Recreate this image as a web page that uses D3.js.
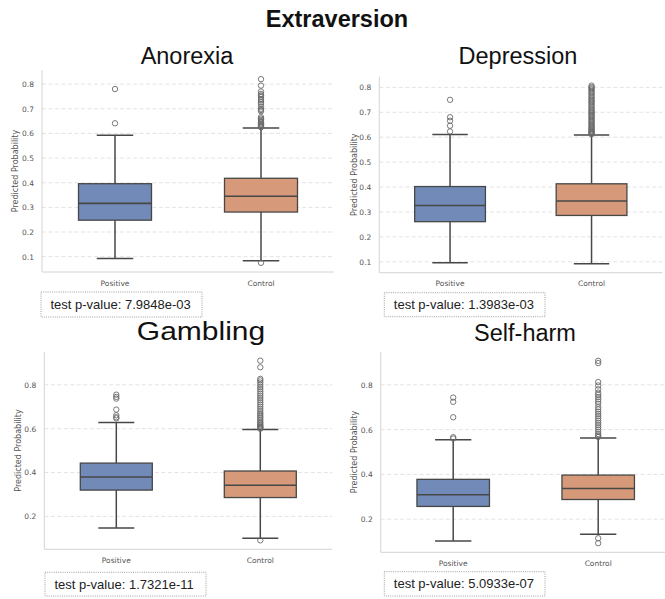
<!DOCTYPE html>
<html>
<head>
<meta charset="utf-8">
<script src="https://cdn.jsdelivr.net/npm/d3@7"></script>
<style>
  html, body { margin: 0; padding: 0; background: #fff; }
  svg { display: block; }
</style>
</head>
<body>
<svg id="chart" width="665" height="599"></svg>
<script>
// ---- data ----
const figureTitle = "Extraversion";
const groups = ["Positive", "Control"];
const disorders = ["Anorexia", "Depression", "Gambling", "Self-harm"];
const pValues = ["7.9848e-03", "1.3983e-03", "1.7321e-11", "5.0933e-07"];

// box statistics: [lower whisker, Q1, median, Q3, upper whisker]
const anorexiaPositive   = [0.093, 0.248, 0.316, 0.396, 0.593];
const anorexiaControl    = [0.083, 0.281, 0.345, 0.418, 0.622];
const depressionPositive = [0.096, 0.261, 0.326, 0.402, 0.611];
const depressionControl  = [0.092, 0.286, 0.344, 0.413, 0.609];
const gamblingPositive   = [0.147, 0.320, 0.380, 0.443, 0.628];
const gamblingControl    = [0.100, 0.286, 0.342, 0.407, 0.596];
const selfharmPositive   = [0.103, 0.257, 0.309, 0.378, 0.555];
const selfharmControl    = [0.133, 0.288, 0.337, 0.397, 0.563];

// outlying points
const anorexiaPositiveOut = [0.780, 0.641];
const anorexiaControlOut = [0.075, 0.625, 0.628, 0.632, 0.636, 0.640, 0.645, 0.650, 0.655, 0.660,
  0.666, 0.690, 0.695, 0.700, 0.709, 0.720, 0.727, 0.735, 0.740, 0.748, 0.754, 0.760, 0.770, 0.794, 0.820];
const depressionPositiveOut = [0.750, 0.680, 0.666, 0.646, 0.623];
const depressionControlOut = [0.612, 0.615, 0.618, 0.621, 0.624, 0.628, 0.632, 0.636, 0.640, 0.645,
  0.650, 0.655, 0.660, 0.665, 0.670, 0.675, 0.680, 0.685, 0.690, 0.695, 0.700, 0.705, 0.710, 0.716,
  0.722, 0.728, 0.734, 0.740, 0.745, 0.750, 0.756, 0.762, 0.768, 0.775, 0.780, 0.786, 0.792, 0.797,
  0.801, 0.807];
const gamblingPositiveOut = [0.755, 0.745, 0.737, 0.687, 0.661, 0.652, 0.647];
const gamblingControlOut = [0.091, 0.600, 0.603, 0.607, 0.610, 0.615, 0.620, 0.626, 0.632, 0.640,
  0.648, 0.655, 0.663, 0.670, 0.680, 0.690, 0.700, 0.710, 0.720, 0.730, 0.740, 0.750, 0.760, 0.770,
  0.780, 0.790, 0.800, 0.810, 0.820, 0.827, 0.880, 0.910];
const selfharmPositiveOut = [0.743, 0.724, 0.655, 0.566, 0.560];
const selfharmControlOut = [0.115, 0.093, 0.567, 0.572, 0.580, 0.590, 0.600, 0.610, 0.620, 0.630,
  0.640, 0.650, 0.660, 0.670, 0.680, 0.690, 0.700, 0.715, 0.725, 0.735, 0.745, 0.755, 0.765, 0.780,
  0.797, 0.812, 0.897, 0.907];

const ticksFine = [0.1, 0.2, 0.3, 0.4, 0.5, 0.6, 0.7, 0.8];
const ticksCoarse = [0.2, 0.4, 0.6, 0.8];

// ---- panel setup ----
// title: [x, baseline, font size, horizontal stretch]
const panels = [
  { name: disorders[0], p: pValues[0], stats: [anorexiaPositive, anorexiaControl],
    out: [anorexiaPositiveOut, anorexiaControlOut], ticks: ticksFine,
    box: { l: 42, r: 334, t: 70, b: 272 }, title: [187, 64, 23.5, 1], yLab: 15, xLabY: 285.5,
    pBox: [41, 292, 161, 25] },
  { name: disorders[1], p: pValues[1], stats: [depressionPositive, depressionControl],
    out: [depressionPositiveOut, depressionControlOut], ticks: ticksFine,
    box: { l: 379.3, r: 662.3, t: 76.7, b: 272.7 }, title: [518, 64, 23.5, 1], yLab: 354, xLabY: 286,
    pBox: [384.3, 292.7, 160.7, 24] },
  { name: disorders[2], p: pValues[2], stats: [gamblingPositive, gamblingControl],
    out: [gamblingPositiveOut, gamblingControlOut], ticks: ticksCoarse,
    box: { l: 44.3, r: 332.3, t: 351.7, b: 549.3 }, title: [201, 340, 25, 1.2], yLab: 18.3, xLabY: 563.5,
    pBox: [45, 572.3, 161, 23.7] },
  { name: disorders[3], p: pValues[3], stats: [selfharmPositive, selfharmControl],
    out: [selfharmPositiveOut, selfharmControlOut], ticks: ticksCoarse,
    box: { l: 380.7, r: 670.7, t: 351.7, b: 552.3 }, title: [525, 341, 23.5, 1], yLab: 354, xLabY: 566,
    pBox: [384.3, 571.7, 160.7, 24.3] }
];

const fills = ["#728ab8", "#d69a7a"];
const lineColor = "#474747";

const svg = d3.select("#chart");

svg.append("text")
  .attr("x", 337).attr("y", 27)
  .attr("text-anchor", "middle")
  .attr("font-family", "Liberation Sans, Arial, sans-serif")
  .attr("font-weight", "bold")
  .attr("font-size", 23.5)
  .attr("fill", "#111")
  .text(figureTitle);

panels.forEach(pn => {
  const g = svg.append("g");
  const allVals = pn.stats.flat().concat(pn.out.flat());
  const [mn, mx] = d3.extent(allVals);
  const pad = (mx - mn) * 0.05;

  const y = d3.scaleLinear().domain([mn - pad, mx + pad]).range([pn.box.b, pn.box.t]);
  const x = d3.scaleBand().domain(groups).range([pn.box.l, pn.box.r]).padding(0);
  const bw = x.bandwidth() * 0.5;

  // horizontal dashed grid
  g.append("g").selectAll("line").data(pn.ticks).join("line")
    .attr("x1", pn.box.l).attr("x2", pn.box.r)
    .attr("y1", d => y(d)).attr("y2", d => y(d))
    .attr("stroke", "#e0e0e0").attr("stroke-width", 0.9)
    .attr("stroke-dasharray", "4,2.5");

  // spines
  g.append("line").attr("x1", pn.box.l).attr("x2", pn.box.l)
    .attr("y1", pn.box.t).attr("y2", pn.box.b)
    .attr("stroke", "#d4d4d4").attr("stroke-width", 1);
  g.append("line").attr("x1", pn.box.l).attr("x2", pn.box.r)
    .attr("y1", pn.box.b).attr("y2", pn.box.b)
    .attr("stroke", "#d4d4d4").attr("stroke-width", 1);

  // y axis ticks
  const ya = g.append("g").attr("transform", `translate(${pn.box.l},0)`)
    .call(d3.axisLeft(y).tickValues(pn.ticks).tickSize(0).tickPadding(8).tickFormat(d3.format(".1f")));
  ya.select(".domain").remove();
  ya.selectAll("text").attr("font-family", "DejaVu Sans, sans-serif")
    .attr("font-size", 7.5).attr("fill", "#555");

  // x axis labels
  const xa = g.append("g").attr("transform", `translate(0,${pn.box.b})`)
    .call(d3.axisBottom(x).tickSize(0).tickPadding(0));
  xa.select(".domain").remove();
  xa.selectAll("text").attr("font-family", "DejaVu Sans, sans-serif")
    .attr("font-size", 7.5).attr("fill", "#555")
    .attr("dy", null).attr("y", pn.xLabY - pn.box.b);

  // y axis title
  g.append("text")
    .attr("transform", `translate(${pn.yLab},${(pn.box.t + pn.box.b) / 2}) rotate(-90)`)
    .attr("text-anchor", "middle").attr("dy", "0.35em")
    .attr("font-family", "DejaVu Sans, sans-serif")
    .attr("font-size", 8).attr("fill", "#555")
    .text("Predicted Probability");

  // boxes
  groups.forEach((grp, i) => {
    const s = pn.stats[i];
    const cx = x(grp) + x.bandwidth() / 2;
    const bg = g.append("g");
    // whiskers
    bg.append("line").attr("x1", cx).attr("x2", cx).attr("y1", y(s[0])).attr("y2", y(s[1]))
      .attr("stroke", lineColor).attr("stroke-width", 1.5);
    bg.append("line").attr("x1", cx).attr("x2", cx).attr("y1", y(s[3])).attr("y2", y(s[4]))
      .attr("stroke", lineColor).attr("stroke-width", 1.5);
    // caps
    [s[0], s[4]].forEach(v => {
      bg.append("line").attr("x1", cx - bw / 4).attr("x2", cx + bw / 4)
        .attr("y1", y(v)).attr("y2", y(v))
        .attr("stroke", lineColor).attr("stroke-width", 1.5);
    });
    // box
    bg.append("rect").attr("x", cx - bw / 2).attr("width", bw)
      .attr("y", y(s[3])).attr("height", y(s[1]) - y(s[3]))
      .attr("fill", fills[i]).attr("stroke", lineColor).attr("stroke-width", 1.3);
    // median
    bg.append("line").attr("x1", cx - bw / 2).attr("x2", cx + bw / 2)
      .attr("y1", y(s[2])).attr("y2", y(s[2]))
      .attr("stroke", lineColor).attr("stroke-width", 1.6);
    // outliers
    bg.selectAll("circle").data(pn.out[i]).join("circle")
      .attr("cx", cx).attr("cy", d => y(d)).attr("r", 2.7)
      .attr("fill", "none").attr("stroke", "#6a6a6a").attr("stroke-width", 0.9);
  });

  // panel title
  svg.append("text")
    .attr("transform", `translate(${pn.title[0]},${pn.title[1]}) scale(${pn.title[3]},1)`)
    .attr("text-anchor", "middle")
    .attr("font-family", "Liberation Sans, Arial, sans-serif")
    .attr("font-size", pn.title[2]).attr("fill", "#111")
    .text(pn.name);

  // test result box
  const [bx, by, bwid, bh] = pn.pBox;
  svg.append("rect").attr("x", bx).attr("y", by).attr("width", bwid).attr("height", bh)
    .attr("fill", "#fff").attr("stroke", "#888").attr("stroke-width", 0.8)
    .attr("stroke-dasharray", "1,1.2");
  svg.append("text")
    .attr("x", bx + 9.5).attr("y", by + 16.5)
    .attr("font-family", "Liberation Sans, Arial, sans-serif")
    .attr("font-size", 13).attr("fill", "#222")
    .text("test p-value: " + pn.p);
});
</script>
</body>
</html>
